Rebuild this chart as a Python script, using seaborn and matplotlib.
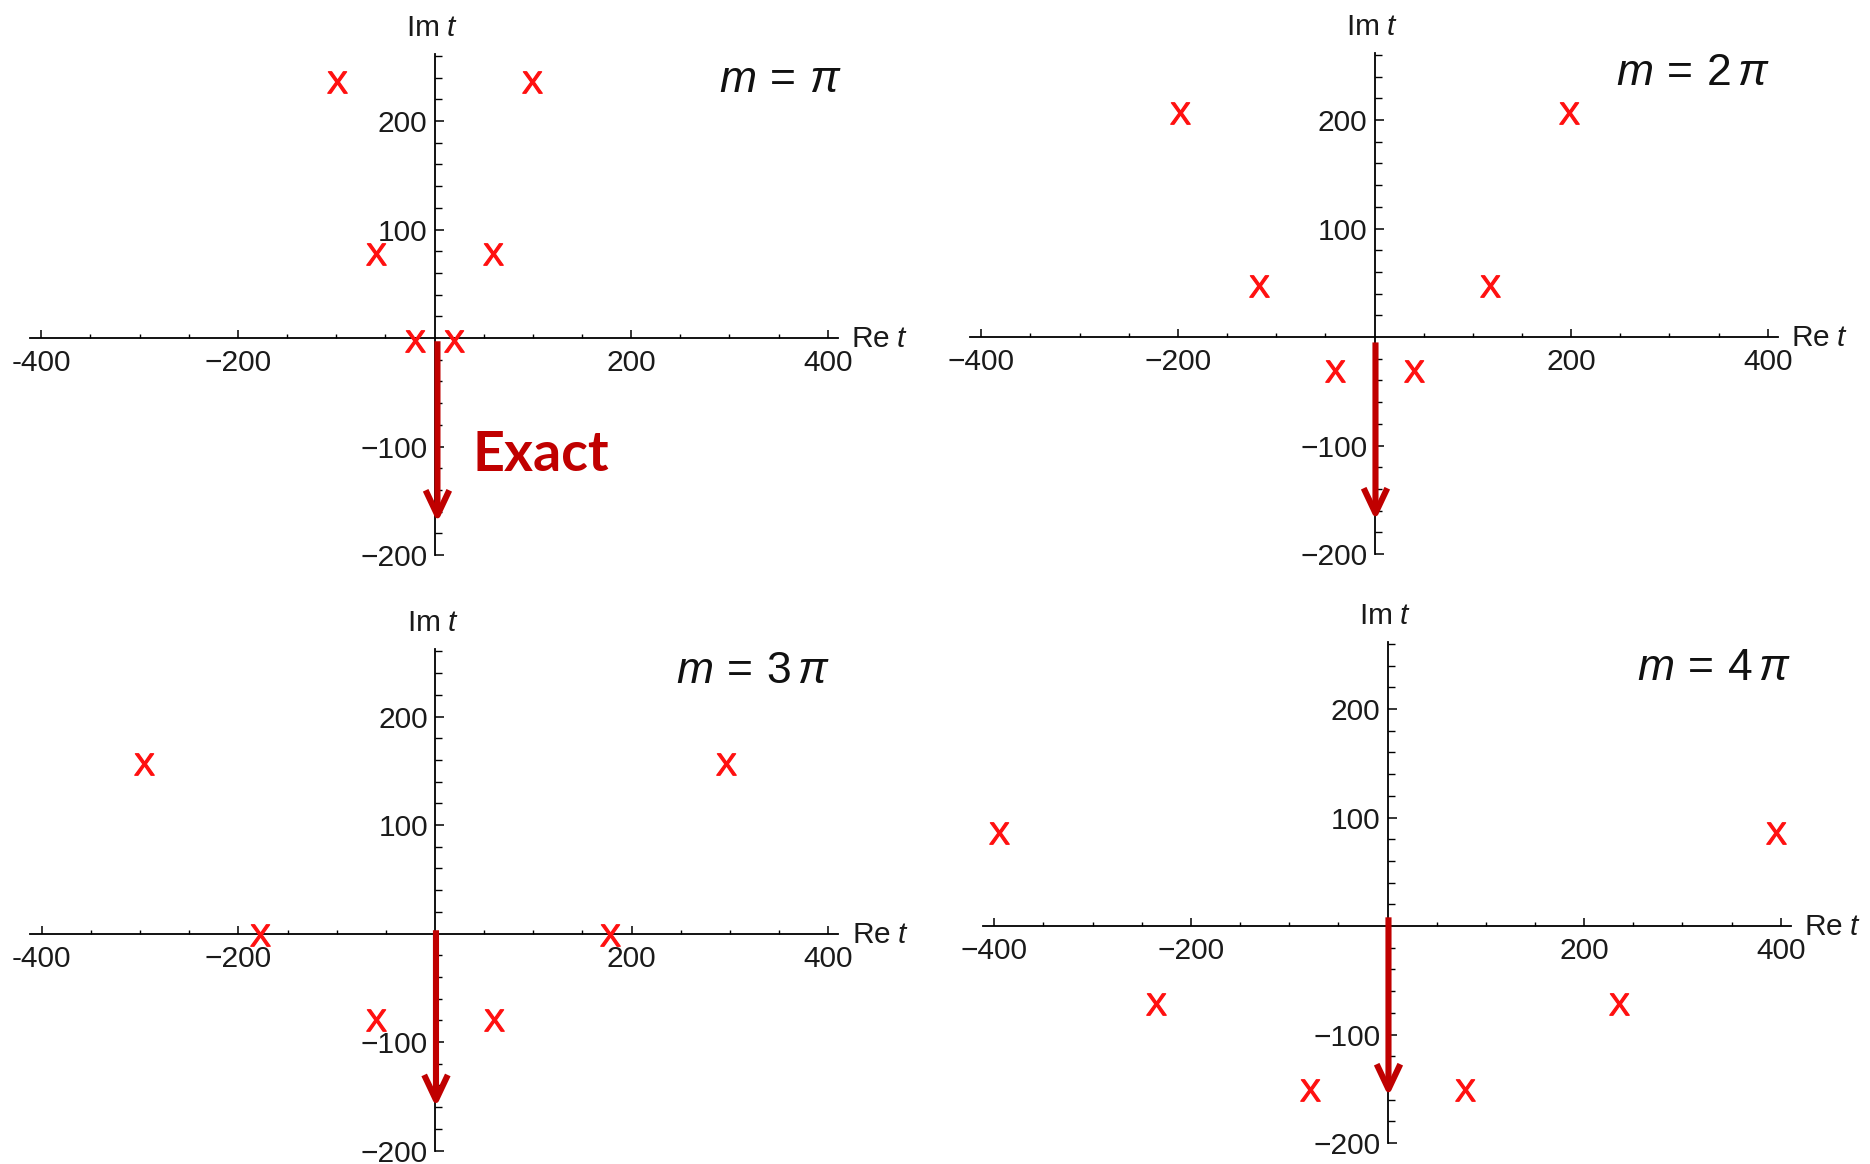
import matplotlib
matplotlib.use("Agg")
import matplotlib.pyplot as plt
import seaborn as sns
import pandas as pd
from matplotlib.ticker import FixedLocator

sns.set_theme(style="white")
plt.rcParams['font.family'] = ['Liberation Sans', 'DejaVu Sans']
plt.rcParams['mathtext.fontset'] = 'custom'
plt.rcParams['mathtext.rm'] = 'Liberation Sans'
plt.rcParams['mathtext.it'] = 'Liberation Sans:italic'
plt.rcParams['mathtext.bf'] = 'Liberation Sans:bold'
plt.rcParams['mathtext.sf'] = 'Liberation Sans'

# ---------------- data ----------------
panel_labels = [r"$m\,=\,\pi$", r"$m\,=\,2\,\pi$", r"$m\,=\,3\,\pi$", r"$m\,=\,4\,\pi$"]
re_m1 = [-99, 99, -60, 60, -20, 20]
im_m1 = [236, 236, 77, 77, -3, -3]
re_m2 = [-198, 198, -118, 118, -40, 40]
im_m2 = [206, 206, 47, 47, -31, -31]
re_m3 = [-296, 296, -178, 178, -60, 60]
im_m3 = [156, 156, -1, -1, -80, -80]
re_m4 = [-395, 395, -236, 236, -79, 79]
im_m4 = [86, 86, -72, -72, -151, -151]
arrow_re = [3, 1, 1, 1]
arrow_start_im = [-3, -5, 3, 8]
arrow_end_im = [-170, -169, -160, -157]
x_major = [-400, -200, 200, 400]
x_labels_hyphen = ["-400", "\u2212200", "200", "400"]
x_labels_minus = ["\u2212400", "\u2212200", "200", "400"]
y_major = [-200, -100, 100, 200]
y_labels = ["\u2212200", "\u2212100", "100", "200"]

re_sets = [re_m1, re_m2, re_m3, re_m4]
im_sets = [im_m1, im_m2, im_m3, im_m4]
xlabel_sets = [x_labels_hyphen, x_labels_minus, x_labels_hyphen, x_labels_minus]

# ---------------- layout ----------------
W, H = 1870, 1164
fig = plt.figure(figsize=(W / 100, H / 100), dpi=100)
fig.patch.set_facecolor("white")

XLIM = (-412, 410)
YLIM = (-203, 262)
SX, SY = 0.983, 1.085          # pixels per data unit
origins = [(434.5, 338.0), (1374.5, 337.0), (435.0, 933.5), (1387.5, 926.0)]
label_pos = [(414, 227), (402, 232), (401, 231), (410, 227)]

DARKRED = "#C00000"
RED = "#FF1010"
TICK_FS = 21.5

for i, (ox, oy) in enumerate(origins):
    left = ox - (0 - XLIM[0]) * SX
    top = oy - (YLIM[1] - 0) * SY
    w = (XLIM[1] - XLIM[0]) * SX
    h = (YLIM[1] - YLIM[0]) * SY
    ax = fig.add_axes([left / W, 1 - (top + h) / H, w / W, h / H])
    ax.set_facecolor("none")
    ax.set_xlim(*XLIM)
    ax.set_ylim(*YLIM)

    for s in ("top", "right"):
        ax.spines[s].set_visible(False)
    ax.spines["left"].set_position(("data", 0))
    ax.spines["bottom"].set_position(("data", 0))
    ax.spines["left"].set_bounds(-200, 262)
    for s in ("left", "bottom"):
        ax.spines[s].set_color("black")
        ax.spines[s].set_linewidth(1.3)

    ax.xaxis.set_major_locator(FixedLocator(x_major))
    ax.set_xticklabels(xlabel_sets[i])
    ax.xaxis.set_minor_locator(FixedLocator([v for v in range(-400, 401, 50) if v % 200 != 0]))
    ax.yaxis.set_major_locator(FixedLocator(y_major))
    ax.set_yticklabels(y_labels)
    ax.yaxis.set_minor_locator(FixedLocator([v for v in range(-200, 261, 20) if v % 100 != 0]))

    ax.tick_params(axis="x", which="major", direction="in", length=5.5, width=1.1,
                   pad=8, labelsize=TICK_FS, colors="black", bottom=True)
    ax.tick_params(axis="x", which="minor", direction="in", length=3.2, width=1.0,
                   bottom=True, colors="black")
    ax.tick_params(axis="y", which="major", direction="in", length=6.5, width=1.1,
                   pad=5, labelsize=TICK_FS, colors="black", left=True)
    ax.tick_params(axis="y", which="minor", direction="in", length=4.8, width=1.0,
                   left=True, colors="black")
    for lab in ax.get_xticklabels() + ax.get_yticklabels():
        lab.set_color("#1a1a1a")

    df = pd.DataFrame({"Re": re_sets[i], "Im": im_sets[i]})
    sns.scatterplot(data=df, x="Re", y="Im", marker=r"$\mathrm{X}$", s=240,
                    color=RED, edgecolor=RED, linewidth=0.9, ax=ax,
                    legend=False, zorder=4, clip_on=False)
    ax.set_xlabel("")
    ax.set_ylabel("")

    ax.annotate("", xy=(arrow_re[i], arrow_end_im[i]), xytext=(arrow_re[i], arrow_start_im[i]),
                arrowprops=dict(arrowstyle="->,head_length=18,head_width=8.5",
                                mutation_scale=1, lw=4.4, color=DARKRED,
                                shrinkA=0, shrinkB=0, capstyle="butt", joinstyle="round"),
                zorder=5)

    ax.annotate(r"$\mathrm{Im}\;t$", xy=(0, YLIM[1]), xytext=(-2, 13),
                textcoords="offset points", ha="center", va="baseline",
                fontsize=TICK_FS, color="#1a1a1a", annotation_clip=False)
    ax.annotate(r"$\mathrm{Re}\;t$", xy=(XLIM[1], 0), xytext=(10, -6.5),
                textcoords="offset points", ha="left", va="baseline",
                fontsize=TICK_FS, color="#1a1a1a", annotation_clip=False)

    lx, ly = label_pos[i]
    ax.text(lx, ly, panel_labels[i], ha="right", va="baseline", fontsize=32,
            color="#111111")

    if i == 0:
        ax.text(39, -122.5, "Exact", fontfamily="Lato", fontweight="bold",
                fontsize=40, color=DARKRED, ha="left", va="baseline")

fig.savefig("out.png", dpi=100, facecolor="white")
